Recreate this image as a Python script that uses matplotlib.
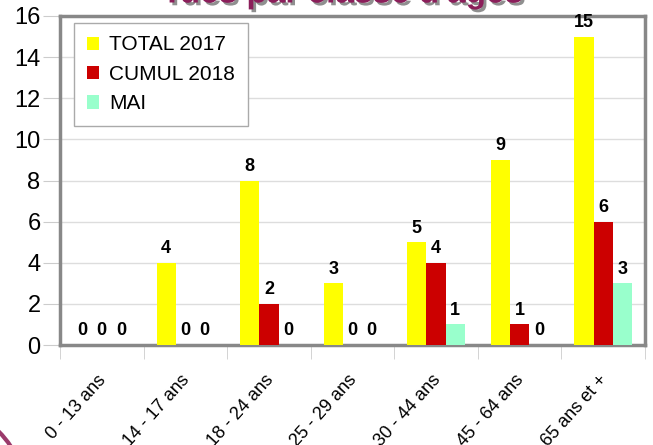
import numpy as np
import matplotlib.pyplot as plt
import matplotlib.patheffects as pe
import matplotlib.transforms as mtransforms
from matplotlib.patches import Arc

plt.rcParams['font.family'] = ['Liberation Sans', 'DejaVu Sans']

categories = ["0 - 13 ans", "14 - 17 ans", "18 - 24 ans", "25 - 29 ans",
              "30 - 44 ans", "45 - 64 ans", "65 ans et +"]
total_2017 = [0, 4, 8, 3, 5, 9, 15]
cumul_2018 = [0, 0, 2, 0, 4, 1, 6]
mai = [0, 0, 0, 0, 1, 0, 3]
series_names = ["TOTAL 2017", "CUMUL 2018", "MAI"]
colors = ["#ffff00", "#cc0000", "#99ffcc"]

fig = plt.figure(figsize=(6.53, 4.45), dpi=100)
ax = fig.add_axes([60 / 653, 100 / 445, 585 / 653, 329 / 445])

x = np.arange(len(categories))
w = 0.23
for k, (vals, name, c) in enumerate(zip([total_2017, cumul_2018, mai], series_names, colors)):
    pos = x + (k - 1) * w
    ax.bar(pos, vals, width=w, color=c, label=name, zorder=3)
    for p, v in zip(pos, vals):
        ax.annotate(str(v), (p, v), xytext=(0, 4), textcoords="offset points",
                    ha="center", va="bottom", fontsize=13, fontweight="bold", zorder=4)

ax.set_xlim(-0.5, len(categories) - 0.5)
ax.set_ylim(0, 16)
ax.set_yticks(range(0, 17, 2))
ax.yaxis.grid(True, color="#dddddd", linewidth=1, zorder=0)
ax.tick_params(axis="y", length=12, color="#cccccc", labelsize=17, pad=2)

# category ticks at group borders, labels at centers
ax.set_xticks(np.arange(-0.5, len(categories)), minor=True)
ax.set_xticks(x)
ax.set_xticklabels(categories, rotation=48, ha="right", fontsize=13)
ax.tick_params(axis="x", which="major", length=0, pad=19)
ax.tick_params(axis="x", which="minor", length=10, color="#cccccc")
offset = mtransforms.ScaledTranslation(8 / 100, 0, fig.dpi_scale_trans)
for lab in ax.get_xticklabels():
    lab.set_transform(lab.get_transform() + offset)

for s in ax.spines.values():
    s.set_color("#888888")
    s.set_linewidth(2.5)

leg = ax.legend(loc="upper left", bbox_to_anchor=(14 / 585, 1 - 7 / 329), fontsize=15,
                handlelength=0.6, handleheight=0.6, handletextpad=0.5,
                labelspacing=0.5, borderpad=0.6, fancybox=False, framealpha=1,
                edgecolor="#aaaaaa", borderaxespad=0)
leg.get_frame().set_linewidth(1)

fig.text(0.525, 1 - 2.5 / 445, "Tués par classe d'âges", ha="center", va="baseline",
         fontsize=24, fontweight="bold", color="#8b1e5a",
         path_effects=[pe.withSimplePatchShadow(offset=(2, -2), shadow_rgbFace="#444444", alpha=0.6)])

# bit of the slide decoration in the lower left corner
fig.add_artist(Arc((-70, -55), 194, 194, theta1=0, theta2=90,
                   transform=mtransforms.IdentityTransform(),
                   color="#9b3a6b", linewidth=3))

fig.savefig("out.png", dpi=100)
